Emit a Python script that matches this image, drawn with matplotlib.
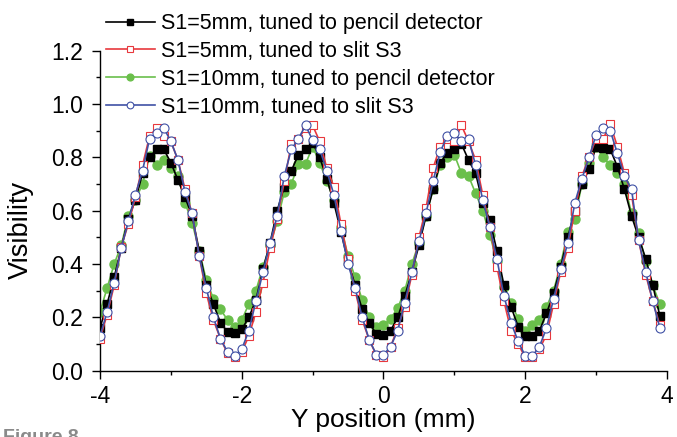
import numpy as np
import matplotlib
matplotlib.use("Agg")
import matplotlib.pyplot as plt
from matplotlib.ticker import MultipleLocator

plt.rcParams["font.family"] = ["Liberation Sans", "DejaVu Sans"]

# Y position scan, 0.1 mm steps
y_pos = np.round(np.arange(-4.0, 3.95, 0.1), 2)

# S1=5mm, tuned to pencil detector
vis_5mm_pencil = [
    0.16, 0.25, 0.35, 0.46, 0.57, 0.64, 0.74, 0.80, 0.83, 0.83,
    0.78, 0.715, 0.65, 0.58, 0.45, 0.32, 0.25, 0.18, 0.145, 0.14,
    0.155, 0.20, 0.265, 0.38, 0.48, 0.60, 0.69, 0.75, 0.81, 0.83,
    0.855, 0.80, 0.72, 0.63, 0.52, 0.41, 0.32, 0.23, 0.18, 0.136,
    0.134, 0.15, 0.20, 0.28, 0.37, 0.47, 0.58, 0.68, 0.78, 0.815,
    0.83, 0.85, 0.79, 0.74, 0.63, 0.565, 0.45, 0.32, 0.24, 0.165,
    0.13, 0.13, 0.15, 0.215, 0.29, 0.39, 0.50, 0.60, 0.70, 0.755,
    0.84, 0.835, 0.83, 0.765, 0.68, 0.58, 0.50, 0.42, 0.32, 0.205,
]

# S1=5mm, tuned to slit S3
vis_5mm_slit = [
    0.12, 0.21, 0.32, 0.465, 0.55, 0.65, 0.77, 0.88, 0.91, 0.88,
    0.86, 0.79, 0.68, 0.59, 0.43, 0.29, 0.19, 0.12, 0.065, 0.05,
    0.07, 0.13, 0.22, 0.33, 0.46, 0.57, 0.71, 0.85, 0.87, 0.91,
    0.92, 0.86, 0.76, 0.69, 0.55, 0.42, 0.30, 0.19, 0.115, 0.058,
    0.05, 0.09, 0.16, 0.24, 0.36, 0.50, 0.61, 0.76, 0.84, 0.87,
    0.86, 0.92, 0.86, 0.79, 0.66, 0.54, 0.39, 0.26, 0.15, 0.10,
    0.05, 0.05, 0.08, 0.135, 0.25, 0.37, 0.46, 0.60, 0.73, 0.80,
    0.87, 0.87, 0.925, 0.84, 0.74, 0.66, 0.49, 0.36, 0.26, 0.17,
]

# S1=10mm, tuned to pencil detector
vis_10mm_pencil = [
    0.22, 0.31, 0.40, 0.47, 0.58, 0.64, 0.70, 0.805, 0.77, 0.79,
    0.76, 0.73, 0.63, 0.555, 0.45, 0.34, 0.27, 0.23, 0.19, 0.165,
    0.19, 0.25, 0.30, 0.39, 0.47, 0.56, 0.67, 0.70, 0.775, 0.775,
    0.84, 0.78, 0.71, 0.64, 0.54, 0.43, 0.35, 0.265, 0.20, 0.165,
    0.17, 0.195, 0.235, 0.30, 0.40, 0.48, 0.58, 0.68, 0.77, 0.80,
    0.81, 0.74, 0.73, 0.665, 0.60, 0.51, 0.41, 0.315, 0.255, 0.195,
    0.15, 0.17, 0.19, 0.24, 0.30, 0.40, 0.52, 0.57, 0.70, 0.78,
    0.84, 0.80, 0.77, 0.74, 0.70, 0.59, 0.515, 0.41, 0.32, 0.25,
]

# S1=10mm, tuned to slit S3
vis_10mm_slit = [
    0.13, 0.22, 0.33, 0.46, 0.56, 0.66, 0.75, 0.87, 0.89, 0.91,
    0.86, 0.79, 0.67, 0.59, 0.43, 0.31, 0.20, 0.12, 0.07, 0.056,
    0.08, 0.15, 0.26, 0.37, 0.48, 0.58, 0.73, 0.83, 0.87, 0.92,
    0.865, 0.83, 0.75, 0.66, 0.525, 0.40, 0.31, 0.20, 0.115, 0.06,
    0.06, 0.09, 0.15, 0.255, 0.37, 0.485, 0.59, 0.71, 0.82, 0.88,
    0.89, 0.86, 0.87, 0.77, 0.64, 0.54, 0.42, 0.28, 0.18, 0.11,
    0.056, 0.055, 0.09, 0.16, 0.27, 0.38, 0.48, 0.63, 0.72, 0.80,
    0.885, 0.91, 0.90, 0.815, 0.73, 0.68, 0.49, 0.37, 0.26, 0.16,
]

labels = [
    "S1=5mm, tuned to pencil detector",
    "S1=5mm, tuned to slit S3",
    "S1=10mm, tuned to pencil detector",
    "S1=10mm, tuned to slit S3",
]

fig = plt.figure(figsize=(6.77, 4.37), dpi=100)
ax = fig.add_axes([0.1477, 0.1517, 0.8375, 0.7323])

lw = 1.2
ax.plot(y_pos, vis_5mm_pencil, "-s", color="black", lw=lw, ms=6,
        mfc="black", mec="black", label=labels[0], zorder=2)
ax.plot(y_pos, vis_5mm_slit, "-s", color="#e8383d", lw=lw, ms=6,
        mfc="white", mec="#e8383d", mew=0.8, label=labels[1], zorder=3)
ax.plot(y_pos, vis_10mm_pencil, "-o", color="#6abf4b", lw=lw, ms=6.5,
        mfc="#6abf4b", mec="#6abf4b", label=labels[2], zorder=1)
ax.plot(y_pos, vis_10mm_slit, "-o", color="#3f51a5", lw=lw, ms=6.5,
        mfc="white", mec="#3f51a5", mew=0.8, label=labels[3], zorder=4)

ax.set_xlim(-4, 4)
ax.set_ylim(0, 1.2)
ax.xaxis.set_major_locator(MultipleLocator(2))
ax.xaxis.set_minor_locator(MultipleLocator(1))
ax.yaxis.set_major_locator(MultipleLocator(0.2))
ax.yaxis.set_minor_locator(MultipleLocator(0.1))
ax.yaxis.set_major_formatter(plt.FormatStrFormatter("%.1f"))
ax.xaxis.set_major_formatter(plt.FormatStrFormatter("%d"))

for side in ("top", "right"):
    ax.spines[side].set_visible(False)
for side in ("left", "bottom"):
    ax.spines[side].set_linewidth(1.0)

ax.tick_params(which="major", direction="out", length=6, width=1.0,
               labelsize=16.5, pad=4)
ax.tick_params(axis="y", which="major", pad=6)
ax.tick_params(which="minor", direction="out", length=3, width=1.0)

ax.set_xlabel("Y position (mm)", fontsize=19, labelpad=0)
ax.set_ylabel("Visibility", fontsize=19.5)
ax.yaxis.set_label_coords(-0.117, 0.44)

fig.legend(loc="upper left", bbox_to_anchor=(0.1495, 0.98), frameon=False,
           fontsize=15.5, handlelength=2.3, handletextpad=0.3,
           labelspacing=0.32, markerscale=0.75, borderaxespad=0.0,
           borderpad=0.2)

fig.text(0.005, -0.012, "Figure 8", fontsize=14, fontweight="bold",
         color="#8a8a8a", va="baseline", ha="left")

fig.savefig("out.png", dpi=100)
